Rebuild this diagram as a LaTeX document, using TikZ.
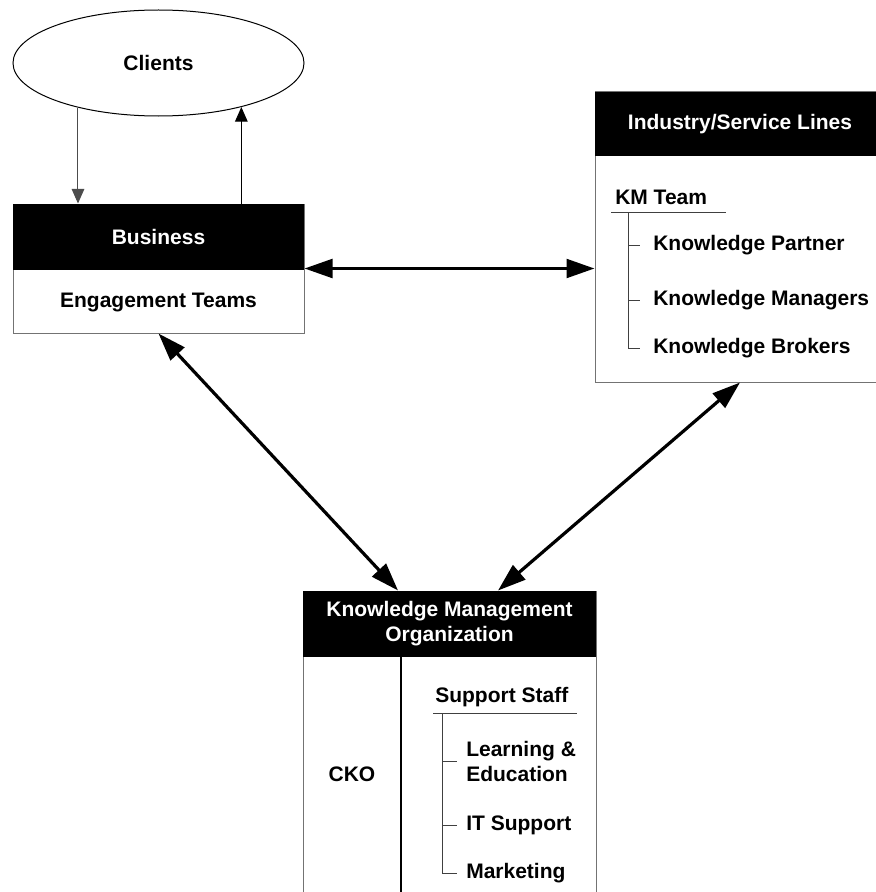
\documentclass[tikz,border=0pt]{standalone}
\usepackage{fontspec}
\setmainfont{Liberation Sans}
\usetikzlibrary{shapes.geometric,arrows.meta,calc}

\begin{document}
\begin{tikzpicture}[x=0.75pt,y=-0.75pt,
  every node/.style={font=\fontsize{15.75}{18.75}\selectfont\bfseries},
  frame/.style={draw=black!55, line width=0.75pt, fill=white, inner sep=0pt},
  header/.style={fill=black, text=white, inner sep=0pt, anchor=north},
  label/.style={inner sep=0pt, anchor=west},
  tree/.style={draw=black!75, line width=0.75pt},
  link/.style={line width=2.4pt,
    {Triangle[length=21pt,width=14pt]}-{Triangle[length=21pt,width=14pt]}},
  flow/.style={line width=0.75pt, -{Triangle[length=11pt,width=9.5pt]}}
]
\useasboundingbox (0,0) rectangle (875,892);

% Clients
\node[ellipse, draw=black, line width=0.75pt, minimum width=218.25pt,
      minimum height=79.5pt, inner sep=0pt] (cl) at (158.5,63) {Clients};

% Business box
\node[frame, minimum width=218.25pt, minimum height=96.75pt] (biz) at (158.5,268.5) {};
\node[header, minimum width=218.25pt, minimum height=49.5pt] (bizh) at (biz.north) {Business};
\node (eng) at (158.5,302) {Engagement Teams};

% Industry / service lines box
\node[frame, minimum width=217.5pt, minimum height=217.5pt] (ind) at (740,237) {};
\node[header, minimum width=217.5pt, minimum height=48pt] (indh) at (ind.north) {Industry/Service Lines};

\node[label] (km) at (615,197) {KM Team};
\draw[tree] (611,212) -- (726,212);
\coordinate (kmtop) at (628,212);
\node[label] (kp)  at (653,245) {Knowledge Partner};
\node[label] (kmg) at (653,300) {Knowledge Managers};
\node[label] (kb)  at (653,348) {Knowledge Brokers};
\draw[tree] (kmtop) |- ([xshift=-9.75pt]kb.west);
\draw[tree] (kmtop |- kp.west) -- ([xshift=-9.75pt]kp.west);
\draw[tree] (kmtop |- kmg.west) -- ([xshift=-9.75pt]kmg.west);

% Knowledge management organization box
\node[frame, minimum width=219.75pt, minimum height=231.75pt] (kmo) at (449.5,745.5) {};
\node[header, minimum width=219.75pt, minimum height=49.5pt, align=center] (kmoh) at (kmo.north)
  {Knowledge Management\\Organization};
\draw[line width=1pt] (401,657) -- (401,900);
\node (cko) at (352,774) {CKO};

\node[label] (ss) at (435,697) {Support Staff};
\draw[tree] (433,713) -- (577,713);
\coordinate (sstop) at (442,713);
\node[label, align=left] (le) at (466,761) {Learning \&\\Education};
\node[label] (its) at (466,825) {IT Support};
\node[label] (mk)  at (466,873) {Marketing};
\draw[tree] (sstop) |- ([xshift=-6.75pt]mk.west);
\draw[tree] (sstop |- le.west) -- ([xshift=-6.75pt]le.west);
\draw[tree] (sstop |- its.west) -- ([xshift=-6.75pt]its.west);

% Client flows
\draw[flow, draw=black!70] (cl.-151.3) -- (cl.-151.3 |- biz.north);
\draw[flow] (cl.-28.7 |- biz.north) -- (cl.-28.7);

% Two-way links
\draw[link] (biz.east) -- (biz.east -| ind.west);
\draw[link] (biz.south) -- ([xshift=-38.6pt]kmoh.north);
\draw[link] (ind.south) -- ([xshift=36.4pt]kmoh.north);
\end{tikzpicture}
\end{document}
